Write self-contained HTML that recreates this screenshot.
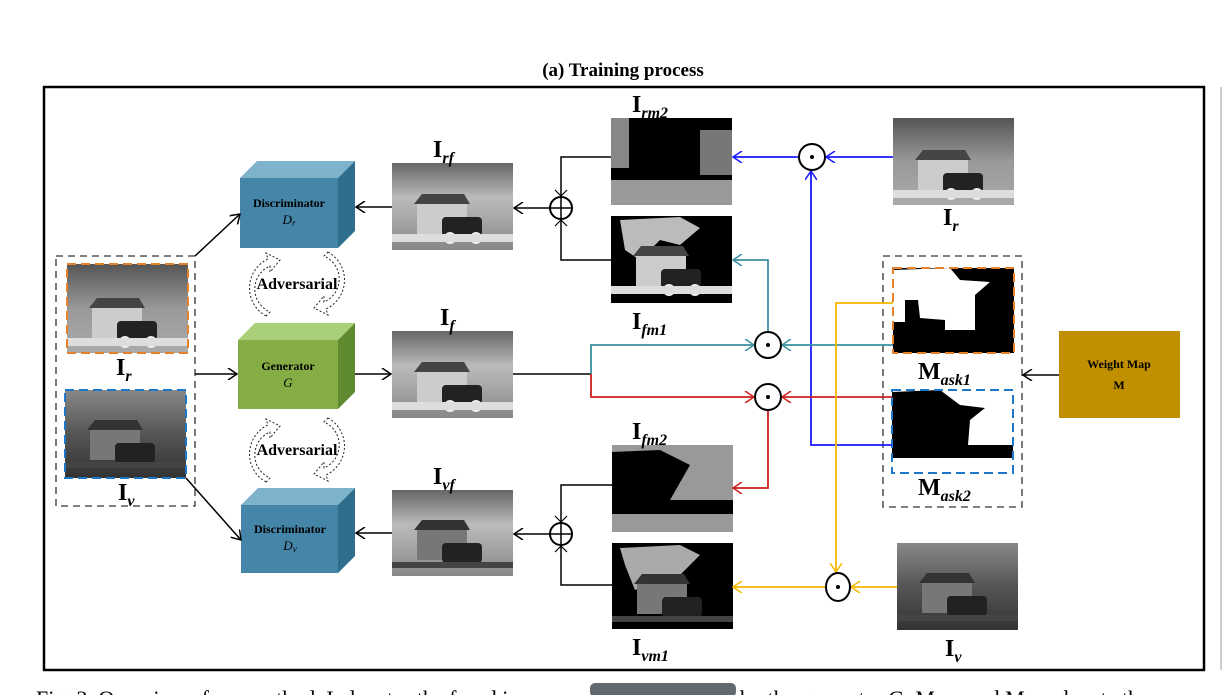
<!DOCTYPE html>
<html><head><meta charset="utf-8"><style>
html,body{margin:0;padding:0;background:#fff;width:1223px;height:695px;overflow:hidden}
svg{display:block}
.lab{font-family:"Liberation Serif",serif;font-weight:bold;font-size:24px}
.sub{font-family:"Liberation Serif",serif;font-style:italic;font-weight:bold;font-size:16px}
.box{font-family:"Liberation Serif",serif;font-weight:bold;font-size:12px}
</style></head><body>
<svg width="1223" height="695" viewBox="0 0 1223 695" xmlns="http://www.w3.org/2000/svg">
<defs>
<linearGradient id="gr" x1="0" y1="0" x2="0" y2="1"><stop offset="0" stop-color="#555"/><stop offset="0.5" stop-color="#999"/><stop offset="1" stop-color="#aaa"/></linearGradient>
<linearGradient id="gv" x1="0" y1="0" x2="0" y2="1"><stop offset="0" stop-color="#888"/><stop offset="0.5" stop-color="#555"/><stop offset="1" stop-color="#333"/></linearGradient>
<linearGradient id="gf" x1="0" y1="0" x2="0" y2="1"><stop offset="0" stop-color="#666"/><stop offset="0.4" stop-color="#bbb"/><stop offset="1" stop-color="#888"/></linearGradient>
<g id="house"><rect x="25" y="30" width="50" height="32" fill="#ccc"/><polygon points="22,32 78,32 72,22 30,22" fill="#444"/><rect x="50" y="45" width="40" height="20" rx="4" fill="#222"/><circle cx="58" cy="66" r="6" fill="#eee"/><circle cx="84" cy="66" r="6" fill="#eee"/><rect x="0" y="62" width="121" height="8" fill="#ddd"/></g>
<g id="houseD"><rect x="25" y="30" width="50" height="32" fill="#777"/><polygon points="22,32 78,32 72,22 30,22" fill="#333"/><rect x="50" y="45" width="40" height="20" rx="4" fill="#222"/><rect x="0" y="64" width="121" height="6" fill="#444"/></g>
<marker id="ak" viewBox="0 0 12 12" refX="11" refY="6" markerWidth="12" markerHeight="12" orient="auto" markerUnits="userSpaceOnUse"><path d="M2,0 L11,6 L2,12" fill="none" stroke="context-stroke" stroke-width="1.5"/></marker>
</defs>

<text x="623" y="76" text-anchor="middle" font-family="Liberation Serif,serif" font-weight="bold" font-size="19">(a) Training process</text>
<rect x="44" y="87" width="1160" height="583" fill="none" stroke="#000" stroke-width="2.5"/>
<line x1="1221" y1="87" x2="1221" y2="670" stroke="#999" stroke-width="1"/>

<rect x="56" y="256" width="139" height="250" fill="none" stroke="#333" stroke-width="1.3" stroke-dasharray="7,5"/>
<rect x="67" y="264" width="121" height="89" fill="url(#gr)"/><use href="#house" x="67" y="276"/>
<rect x="67" y="264" width="121" height="89" fill="none" stroke="#e8822a" stroke-width="2" stroke-dasharray="9,5"/>
<text x="116" y="375" class="lab">I<tspan class="sub" dy="6">r</tspan></text>
<rect x="65" y="390" width="121" height="88" fill="url(#gv)"/><use href="#houseD" x="65" y="398"/>
<rect x="65" y="390" width="121" height="88" fill="none" stroke="#1f77c8" stroke-width="2" stroke-dasharray="9,5"/>
<text x="118" y="500" class="lab">I<tspan class="sub" dy="6">v</tspan></text>

<g>
<polygon points="240,178 257,161 355,161 338,178" fill="#7fb3cc"/><polygon points="338,178 355,161 355,231 338,248" fill="#2f6f8d"/><rect x="240" y="178" width="98" height="70" fill="#4485a8"/>
<text x="289" y="207" text-anchor="middle" class="box">Discriminator</text><text x="289" y="224" text-anchor="middle" font-family="Liberation Serif,serif" font-style="italic" font-size="13">D<tspan font-size="9" dy="2">r</tspan></text>
</g>
<g>
<polygon points="238,340 255,323 355,323 338,340" fill="#a9cf78"/><polygon points="338,340 355,323 355,392 338,409" fill="#5f8a30"/><rect x="238" y="340" width="100" height="69" fill="#86ad45"/>
<text x="288" y="370" text-anchor="middle" class="box">Generator</text><text x="288" y="387" text-anchor="middle" font-family="Liberation Serif,serif" font-style="italic" font-size="13">G</text>
</g>
<g>
<polygon points="241,505 258,488 355,488 338,505" fill="#7fb3cc"/><polygon points="338,505 355,488 355,556 338,573" fill="#2f6f8d"/><rect x="241" y="505" width="97" height="68" fill="#4485a8"/>
<text x="290" y="533" text-anchor="middle" class="box">Discriminator</text><text x="290" y="550" text-anchor="middle" font-family="Liberation Serif,serif" font-style="italic" font-size="13">D<tspan font-size="9" dy="2">v</tspan></text>
</g>
<g fill="none" stroke="#222" stroke-width="1" stroke-dasharray="2,2">
<path d="M266,316 A32,32 0 0 1 268,259 L266,253 L280,260 L270,272 L270,266 A25,25 0 0 0 270,312 Z"/>
<path d="M328,252 A32,32 0 0 1 326,309 L328,315 L314,308 L324,296 L324,302 A25,25 0 0 0 324,256 Z"/>
<path d="M266,482 A32,32 0 0 1 268,425 L266,419 L280,426 L270,438 L270,432 A25,25 0 0 0 270,478 Z"/>
<path d="M328,418 A32,32 0 0 1 326,475 L328,481 L314,474 L324,462 L324,468 A25,25 0 0 0 324,422 Z"/>
</g>
<text x="297" y="289" text-anchor="middle" font-family="Liberation Serif,serif" font-weight="bold" font-size="16">Adversarial</text>
<text x="297" y="455" text-anchor="middle" font-family="Liberation Serif,serif" font-weight="bold" font-size="16">Adversarial</text>

<rect x="392" y="163" width="121" height="87" fill="url(#gf)"/><use href="#house" x="392" y="172"/>
<text x="433" y="157" class="lab">I<tspan class="sub" dy="6">rf</tspan></text>
<rect x="392" y="331" width="121" height="87" fill="url(#gf)"/><use href="#house" x="392" y="340"/>
<text x="440" y="325" class="lab">I<tspan class="sub" dy="6">f</tspan></text>
<rect x="392" y="490" width="121" height="86" fill="url(#gf)"/><use href="#houseD" x="392" y="498"/>
<text x="433" y="484" class="lab">I<tspan class="sub" dy="6">vf</tspan></text>

<rect x="611" y="118" width="121" height="87" fill="#000"/><rect x="611" y="180" width="121" height="25" fill="#999"/><rect x="611" y="118" width="18" height="50" fill="#888"/><rect x="700" y="130" width="32" height="45" fill="#777"/>
<text x="632" y="112" class="lab">I<tspan class="sub" dy="6">rm2</tspan></text>
<rect x="611" y="216" width="121" height="87" fill="#000"/><path d="M620,220 L680,217 L700,228 L680,245 L660,240 L640,260 L625,250 Z" fill="#bbb"/><use href="#house" x="611" y="224"/>
<text x="632" y="329" class="lab">I<tspan class="sub" dy="6">fm1</tspan></text>
<rect x="612" y="445" width="121" height="87" fill="#999"/><path d="M612,452 L660,450 L690,465 L670,500 L612,505 Z" fill="#000"/><rect x="612" y="500" width="121" height="14" fill="#000"/>
<text x="632" y="439" class="lab">I<tspan class="sub" dy="6">fm2</tspan></text>
<rect x="612" y="543" width="121" height="86" fill="#000"/><path d="M620,548 L680,545 L700,555 L680,575 L635,590 L625,565 Z" fill="#aaa"/><use href="#houseD" x="612" y="552"/>
<text x="632" y="655" class="lab">I<tspan class="sub" dy="6">vm1</tspan></text>

<rect x="893" y="118" width="121" height="87" fill="url(#gr)"/><use href="#house" x="893" y="128"/>
<text x="943" y="225" class="lab">I<tspan class="sub" dy="6">r</tspan></text>
<rect x="897" y="543" width="121" height="87" fill="url(#gv)"/><use href="#houseD" x="897" y="551"/>
<text x="945" y="656" class="lab">I<tspan class="sub" dy="6">v</tspan></text>

<rect x="883" y="256" width="139" height="251" fill="none" stroke="#333" stroke-width="1.3" stroke-dasharray="7,5"/>
<rect x="893" y="268" width="121" height="85" fill="#000"/>
<path d="M893,270 L950,268 L960,280 L990,282 L975,295 L975,330 L945,330 L945,320 L920,318 L918,300 L905,300 L905,322 L893,322 Z" fill="#fff"/>
<rect x="893" y="268" width="121" height="85" fill="none" stroke="#e8822a" stroke-width="2" stroke-dasharray="9,5"/>
<text x="918" y="379" class="lab" font-weight="normal">M<tspan class="sub" dy="6">ask1</tspan></text>
<rect x="892" y="390" width="121" height="83" fill="#fff"/>
<path d="M892,392 L940,390 L960,405 L985,408 L970,420 L968,445 L1013,445 L1013,458 L892,458 Z" fill="#000"/>
<rect x="892" y="390" width="121" height="83" fill="none" stroke="#1f77c8" stroke-width="2" stroke-dasharray="9,5"/>
<text x="918" y="495" class="lab" font-weight="normal">M<tspan class="sub" dy="6">ask2</tspan></text>

<rect x="1059" y="331" width="121" height="87" fill="#c09000"/>
<text x="1119" y="368" text-anchor="middle" class="box" font-size="15">Weight Map</text>
<text x="1119" y="389" text-anchor="middle" class="box" font-size="15">M</text>

<g fill="none" stroke="#000" stroke-width="1.5">
<line x1="195" y1="256" x2="240" y2="214" marker-end="url(#ak)"/>
<line x1="186" y1="478" x2="241" y2="540" marker-end="url(#ak)"/>
<line x1="195" y1="374" x2="237" y2="374" marker-end="url(#ak)"/>
<line x1="355" y1="374" x2="391" y2="374" marker-end="url(#ak)"/>
<line x1="392" y1="207" x2="356" y2="207" marker-end="url(#ak)"/>
<line x1="392" y1="533" x2="356" y2="533" marker-end="url(#ak)"/>
<line x1="550" y1="208" x2="514" y2="208" marker-end="url(#ak)"/>
<line x1="550" y1="534" x2="514" y2="534" marker-end="url(#ak)"/>
<polyline points="611,157 561,157 561,197"/><polyline points="611,260 561,260 561,219"/>
<polyline points="612,485 561,485 561,523"/><polyline points="612,585 561,585 561,545"/>
<line x1="513" y1="374" x2="591" y2="374"/>
<line x1="1059" y1="375" x2="1023" y2="375" marker-end="url(#ak)"/>
<path d="M555,190 L567,202 M567,190 L555,202 M555,214 L567,226 M567,214 L555,226 M555,516 L567,528 M567,516 L555,528 M555,540 L567,552 M567,540 L555,552" stroke-width="1.2"/>
</g>
<g fill="#fff" stroke="#000" stroke-width="2">
<circle cx="561" cy="208" r="11"/><circle cx="561" cy="534" r="11"/>
</g>
<path d="M550,208 H572 M561,197 V219 M550,534 H572 M561,523 V545" stroke="#000" stroke-width="1.5"/>

<g fill="none" stroke-width="1.8">
<line x1="893" y1="157" x2="826" y2="157" stroke="#1a1aff" marker-end="url(#ak)"/>
<line x1="798" y1="157" x2="733" y2="157" stroke="#1a1aff" marker-end="url(#ak)"/>
<polyline points="892,445 811,445 811,171" stroke="#1a1aff" marker-end="url(#ak)"/>
<line x1="893" y1="345" x2="782" y2="345" stroke="#3a8fa0" marker-end="url(#ak)"/>
<polyline points="591,374 591,345 754,345" stroke="#3a8fa0" marker-end="url(#ak)"/>
<polyline points="768,331 768,260 733,260" stroke="#3a8fa0" marker-end="url(#ak)"/>
<polyline points="591,374 591,397 754,397" stroke="#cc1f1f" marker-end="url(#ak)"/>
<line x1="892" y1="397" x2="782" y2="397" stroke="#cc1f1f" marker-end="url(#ak)"/>
<polyline points="768,411 768,488 733,488" stroke="#cc1f1f" marker-end="url(#ak)"/>
<polyline points="893,303 836,303 836,572" stroke="#f5b800" marker-end="url(#ak)"/>
<line x1="897" y1="587" x2="851" y2="587" stroke="#f5b800" marker-end="url(#ak)"/>
<line x1="825" y1="587" x2="733" y2="587" stroke="#f5b800" marker-end="url(#ak)"/>
</g>
<g fill="#fff" stroke="#000" stroke-width="2">
<circle cx="812" cy="157" r="13"/><circle cx="768" cy="345" r="13"/><circle cx="768" cy="397" r="13"/><ellipse cx="838" cy="587" rx="12" ry="14"/>
</g>
<g fill="#000"><circle cx="812" cy="157" r="2"/><circle cx="768" cy="345" r="2"/><circle cx="768" cy="397" r="2"/><circle cx="838" cy="587" r="2"/></g>

<text x="36" y="706" font-family="Liberation Serif,serif" font-size="22">Fig. 3. Overview of our method. I<tspan font-size="15">r</tspan> denotes the fused im</text>
<rect x="590" y="683" width="146" height="14" rx="5" fill="#626a70"/>
<text x="740" y="706" font-family="Liberation Serif,serif" font-size="22">by the generator G, M<tspan font-size="15">ask1</tspan> and M<tspan font-size="15">ask2</tspan> denote th</text>
</svg>
</body></html>
